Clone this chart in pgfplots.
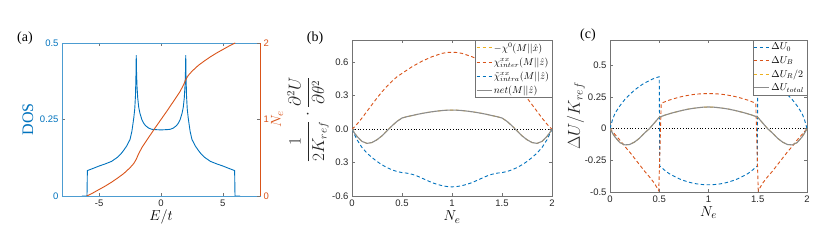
\documentclass[border=0pt]{standalone}
\usepackage{amsmath}
\usepackage{pgfplots}
\pgfplotsset{compat=1.18}
\usepackage{pgfplotstable}
\usepackage{fontspec}
\setmainfont{Liberation Sans}
\newfontfamily\tms{Liberation Serif}
\definecolor{mblue}{rgb}{0,0.447,0.741}
\definecolor{morange}{rgb}{0.850,0.325,0.098}
\definecolor{myellow}{rgb}{0.929,0.694,0.125}
\definecolor{mgray}{rgb}{0.55,0.55,0.55}
\definecolor{axgray}{rgb}{0.45,0.45,0.45}
\definecolor{txtgray}{rgb}{0.15,0.15,0.15}

\pgfplotstableread{
E dos
-6.4 0
-5.98 0
-5.95 0.083
-5.5 0.09
-5.0 0.098
-4.5 0.105
-4.0 0.113
-3.5 0.127
-3.25 0.137
-3.0 0.15
-2.75 0.165
-2.5 0.185
-2.35 0.212
-2.2 0.255
-2.12 0.285
-2.06 0.33
-2.02 0.40
-2.0 0.46
-1.98 0.41
-1.94 0.36
-1.88 0.32
-1.8 0.29
-1.7 0.27
-1.55 0.25
-1.4 0.238
-1.25 0.23
-1.0 0.222
-0.75 0.218
-0.5 0.217
0 0.216
0.5 0.217
0.75 0.218
1.0 0.222
1.25 0.23
1.4 0.238
1.55 0.25
1.7 0.27
1.8 0.29
1.88 0.32
1.94 0.36
1.98 0.41
2.0 0.46
2.02 0.40
2.06 0.33
2.12 0.285
2.2 0.255
2.35 0.212
2.5 0.185
2.75 0.165
3.0 0.15
3.25 0.137
3.5 0.127
4.0 0.113
4.5 0.105
5.0 0.098
5.5 0.09
5.95 0.083
5.98 0
6.4 0
}\dostab

\pgfplotstableread{
E N
-6 0
-5.5 0.04
-5 0.085
-4.5 0.13
-4 0.18
-3.5 0.235
-3 0.295
-2.5 0.37
-2.2 0.425
-2 0.48
-1.8 0.555
-1.5 0.645
-1 0.765
-0.5 0.885
0 1.0
0.5 1.115
1 1.235
1.5 1.355
1.8 1.445
2 1.52
2.2 1.575
2.5 1.63
3 1.705
3.5 1.765
4 1.82
4.5 1.87
5 1.915
5.5 1.96
6 2
}\ntab

\pgfplotstableread{
x inter intra net
0 0 0 0
0.025 0.02 -0.05 -0.035
0.05 0.045 -0.095 -0.065
0.1 0.1 -0.165 -0.11
0.15 0.16 -0.215 -0.128
0.2 0.22 -0.255 -0.12
0.25 0.28 -0.29 -0.095
0.3 0.335 -0.32 -0.06
0.35 0.385 -0.345 -0.015
0.4 0.43 -0.365 0.03
0.45 0.47 -0.38 0.07
0.5 0.5 -0.39 0.1
0.55 0.53 -0.395 0.112
0.6 0.56 -0.405 0.122
0.65 0.585 -0.42 0.132
0.7 0.61 -0.44 0.141
0.75 0.63 -0.46 0.149
0.8 0.65 -0.48 0.156
0.85 0.665 -0.495 0.162
0.9 0.68 -0.507 0.167
0.95 0.688 -0.515 0.17
1.0 0.69 -0.518 0.171
1.05 0.688 -0.515 0.17
1.1 0.68 -0.507 0.167
1.15 0.665 -0.495 0.162
1.2 0.65 -0.48 0.156
1.25 0.63 -0.46 0.149
1.3 0.61 -0.44 0.141
1.35 0.585 -0.42 0.132
1.4 0.56 -0.405 0.122
1.45 0.53 -0.395 0.112
1.5 0.5 -0.39 0.1
1.55 0.47 -0.38 0.07
1.6 0.43 -0.365 0.03
1.65 0.385 -0.345 -0.015
1.7 0.335 -0.32 -0.06
1.75 0.28 -0.29 -0.095
1.8 0.22 -0.255 -0.12
1.85 0.16 -0.215 -0.128
1.9 0.1 -0.165 -0.11
1.95 0.045 -0.095 -0.065
1.975 0.02 -0.05 -0.035
2 0 0 0
}\btab

\pgfplotstableread{
x tot
0 0
0.025 -0.035
0.05 -0.065
0.1 -0.11
0.15 -0.128
0.2 -0.125
0.25 -0.105
0.3 -0.075
0.35 -0.035
0.4 0.0
0.45 0.045
0.5 0.09
0.55 0.105
0.6 0.117
0.65 0.128
0.7 0.138
0.75 0.147
0.8 0.155
0.85 0.161
0.9 0.166
0.95 0.17
1.0 0.171
1.05 0.17
1.1 0.166
1.15 0.161
1.2 0.155
1.25 0.147
1.3 0.138
1.35 0.128
1.4 0.117
1.45 0.105
1.5 0.09
1.55 0.045
1.6 0.0
1.65 -0.035
1.7 -0.075
1.75 -0.105
1.8 -0.125
1.85 -0.128
1.9 -0.11
1.95 -0.065
1.975 -0.035
2 0
}\ctot

\pgfplotstableread{
x u
0 0
0.025 0.07
0.05 0.12
0.1 0.18
0.15 0.23
0.2 0.27
0.25 0.305
0.3 0.335
0.35 0.36
0.4 0.38
0.45 0.398
0.5 0.41
0.505 -0.295
0.55 -0.325
0.6 -0.355
0.65 -0.375
0.7 -0.395
0.75 -0.41
0.8 -0.422
0.85 -0.432
0.9 -0.438
0.95 -0.442
1.0 -0.443
1.05 -0.442
1.1 -0.438
1.15 -0.432
1.2 -0.422
1.25 -0.41
1.3 -0.395
1.35 -0.375
1.4 -0.355
1.45 -0.325
1.495 -0.295
1.5 0.41
1.55 0.398
1.6 0.38
1.65 0.36
1.7 0.335
1.75 0.305
1.8 0.27
1.85 0.23
1.9 0.18
1.95 0.12
1.975 0.07
2 0
}\cuzero

\pgfplotstableread{
x u
0 0
0.05 -0.045
0.1 -0.09
0.15 -0.14
0.2 -0.185
0.25 -0.235
0.3 -0.285
0.35 -0.335
0.4 -0.38
0.45 -0.43
0.495 -0.49
0.52 0.2
0.55 0.21
0.6 0.225
0.65 0.237
0.7 0.248
0.75 0.257
0.8 0.264
0.85 0.27
0.9 0.274
0.95 0.276
1.0 0.277
1.05 0.276
1.1 0.274
1.15 0.27
1.2 0.264
1.25 0.257
1.3 0.248
1.35 0.237
1.4 0.225
1.45 0.21
1.48 0.2
1.505 -0.49
1.55 -0.43
1.6 -0.38
1.65 -0.335
1.7 -0.285
1.75 -0.235
1.8 -0.185
1.85 -0.14
1.9 -0.09
1.95 -0.045
2 0
}\cub

\pgfplotsset{
  mstyle/.style={
    scale only axis, anchor=south west,
    axis line style={axgray, line width=0.5pt},
    tick style={axgray, line width=0.5pt},
    tick align=inside, major tick length=3pt,
    ticklabel style={font=\fontsize{9.5}{10}\selectfont, text=txtgray},
    /pgf/number format/assume math mode=true,
    label style={font=\fontsize{15}{18}\selectfont},
    minor tick num=0,
  },
  mdash/.style={line width=0.9pt, dash pattern=on 3.5pt off 2.5pt},
  mleg/.style={
    legend style={at={(rel axis cs:1,1)}, anchor=north east, draw=axgray,
      fill=white, font=\fontsize{10}{11}\selectfont, row sep=1pt, inner sep=0.8pt,
      cells={anchor=west}},
    legend image code/.code={\draw[##1, line width=0.9pt] (0pt,0pt) -- (15pt,0pt);},
  },
}

\begin{document}
\begin{tikzpicture}
\useasboundingbox (0,0) rectangle (830pt,246pt);

% ---------- (a) ----------
\begin{axis}[mstyle, at={(62pt,50pt)}, width=198pt, height=153pt,
  xmin=-8, xmax=8, ymin=0, ymax=0.5,
  xtick={-5,0,5}, xticklabels={-5,0,5},
  ytick={0,0.25,0.5}, yticklabels={0,0.25,0.5},
  ytick pos=left, xtick pos=both,
  y axis line style={mblue!70},
  yticklabel style={text=mblue},
  ylabel={\tms\fontsize{16}{18}\selectfont DOS}, ylabel style={text=mblue, at={(axis description cs:-0.172,0.5)}, anchor=center},
  xlabel={$E/t$}, xlabel style={at={(axis description cs:0.5,-0.137)}, anchor=center},
]
\addplot[mblue, line width=0.9pt] table[x=E, y=dos] {\dostab};
\end{axis}
\begin{axis}[mstyle, at={(62pt,50pt)}, width=198pt, height=153pt,
  xmin=-8, xmax=8, ymin=0, ymax=2,
  axis x line=none, axis y line*=right,
  y axis line style={morange, -},
  ytick={0,1,2}, yticklabels={0,1,2},
  yticklabel style={text=morange},
  ylabel={$N_e$}, ylabel style={text=morange, at={(axis description cs:1.086,0.5)}, anchor=center},
]
\addplot[morange, line width=0.9pt] table[x=E, y=N] {\ntab};
\end{axis}
\node[font=\tms\fontsize{14}{16}\selectfont] at (25pt,208pt) {(a)};

% ---------- (b) ----------
\begin{axis}[mstyle, mleg, at={(352pt,50pt)}, width=200pt, height=156pt,
  xmin=0, xmax=2, ymin=-0.6, ymax=0.8,
  xtick={0,0.5,1,1.5,2}, xticklabels={0,0.5,1,1.5,2},
  ytick={-0.6,-0.3,0,0.3,0.6}, yticklabels={-0.6,0.3,0.0,0.3,0.6},
  xtick pos=both, ytick pos=both,
  xlabel={$N_e$}, xlabel style={at={(axis description cs:0.5,-0.135)}, anchor=center},
  ylabel={$\dfrac{1}{2K_{ref}}\cdot\dfrac{\partial^2 U}{\partial\theta^2}$},
  ylabel style={at={(axis description cs:-0.22,0.49)}, anchor=center, font=\fontsize{16}{18}\selectfont, text=txtgray},
]
\addplot[black, line width=0.8pt, dotted, forget plot] coordinates {(0,0) (2,0)};
\addplot[myellow, mdash] table[x=x, y=net] {\btab};
\addplot[morange, mdash] table[x=x, y=inter] {\btab};
\addplot[mblue, mdash] table[x=x, y=intra] {\btab};
\addplot[mgray, line width=1.1pt] table[x=x, y=net] {\btab};
\legend{$-\chi^0(M||\hat{x})$, $\chi^{xx}_{inter}(M||\hat{z})$, $\tilde{\chi}^{xx}_{intra}(M||\hat{z})$, $net(M||\hat{z})$}
\end{axis}
\node[font=\tms\fontsize{14}{16}\selectfont] at (315pt,208pt) {(b)};

% ---------- (c) ----------
\begin{axis}[mstyle, mleg, at={(610pt,54pt)}, width=197pt, height=152pt,
  xmin=0, xmax=2, ymin=-0.5, ymax=0.7,
  xtick={0,0.5,1,1.5,2}, xticklabels={0,0.5,1,1.5,2},
  ytick={-0.5,-0.25,0,0.25,0.5}, yticklabels={-0.5,-0.25,0,0.25,0.5},
  xtick pos=both, ytick pos=both,
  xlabel={$N_e$}, xlabel style={at={(axis description cs:0.5,-0.138)}, anchor=center},
  ylabel={$\Delta U/K_{ref}$},
  ylabel style={at={(axis description cs:-0.173,0.5)}, anchor=center, text=txtgray, font=\fontsize{17}{19}\selectfont},
]
\addplot[black, line width=0.8pt, dotted, forget plot] coordinates {(0,0) (2,0)};
\addplot[mblue, mdash] table[x=x, y=u] {\cuzero};
\addplot[morange, mdash] table[x=x, y=u] {\cub};
\addplot[myellow, mdash] table[x=x, y=tot] {\ctot};
\addplot[mgray, line width=1.1pt] table[x=x, y=tot] {\ctot};
\legend{$\Delta U_0$, $\Delta U_B$, $\Delta U_R/2$, $\Delta U_{total}$}
\end{axis}
\node[font=\tms\fontsize{14}{16}\selectfont] at (588pt,211pt) {(c)};
\end{tikzpicture}
\end{document}
